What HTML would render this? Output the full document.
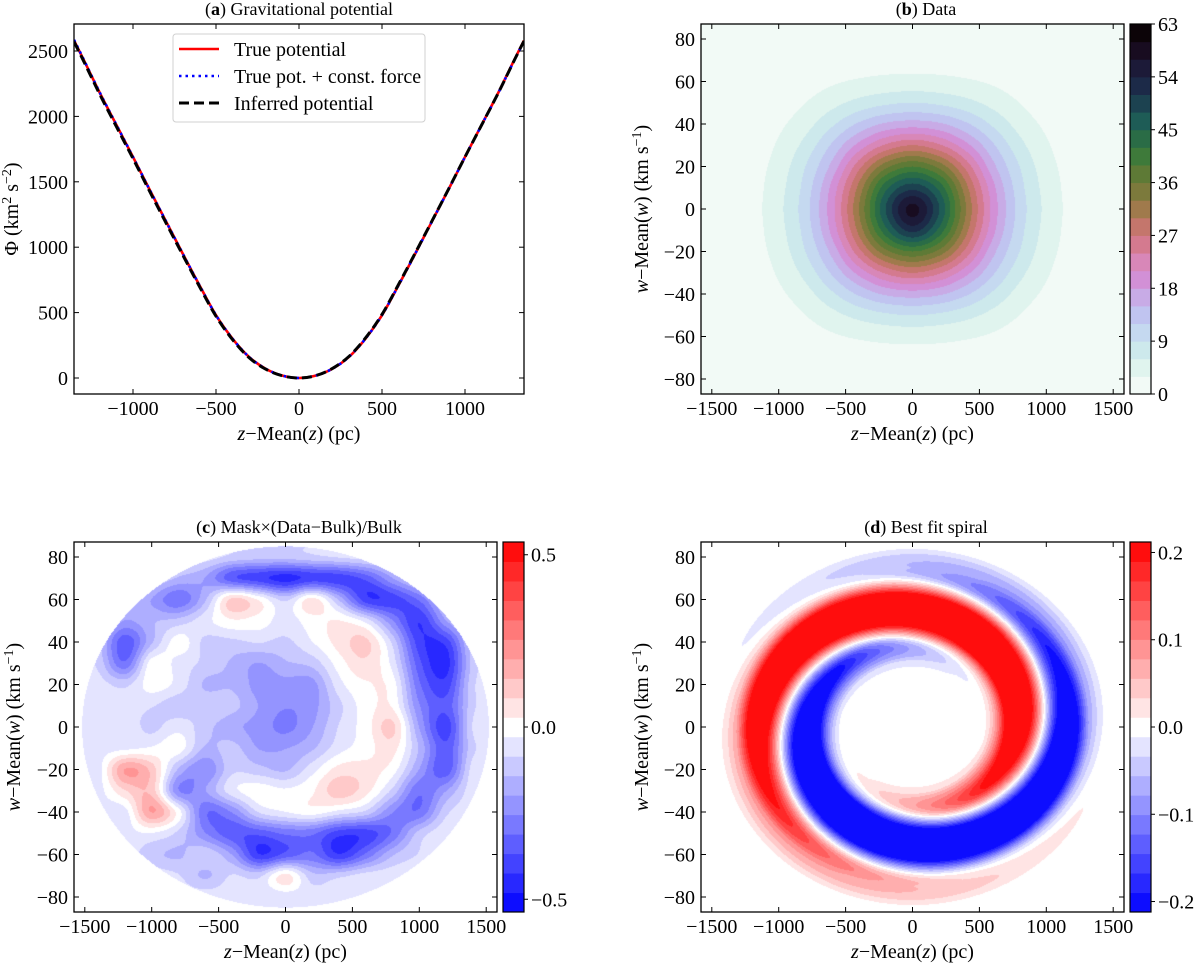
<!DOCTYPE html>
<html><head><meta charset="utf-8">
<style>
html,body{margin:0;padding:0;background:#fff;}
#wrap{position:relative;width:1200px;height:963px;overflow:hidden;font-family:"Liberation Serif","Times New Roman",Times,"DejaVu Serif",serif;}
canvas,svg{position:absolute;left:0;top:0;}
svg text{font-family:"Liberation Serif","Times New Roman",Times,"DejaVu Serif",serif;fill:#000;}
</style></head>
<body>
<div id="wrap">
<canvas id="cv" width="1200" height="963"></canvas>
<svg id="sv" width="1200" height="963" xmlns="http://www.w3.org/2000/svg"></svg>
</div>
<script>
// ---------- Panel (a) data ----------
const potZ=[-1355,-1300,-1200,-1100,-1000,-900,-800,-700,-600,-500,-400,-300,-200,-100,0,100,200,300,400,500,600,700,800,900,1000,1100,1200,1300,1355];
const potTrue=[2580,2440,2180,1935,1690,1440,1195,950,710,480,300,160,70,18,0,18,70,160,300,480,710,950,1195,1440,1690,1935,2180,2440,2580];
const potConst=[2585,2443,2182,1936,1690,1440,1195,950,710,480,300,160,70,18,0,18,70,160,300,480,710,950,1195,1440,1690,1934,2178,2437,2575];
const potInferred=[2570,2430,2168,1922,1678,1428,1183,940,700,472,293,155,67,17,0,18,72,164,305,486,716,955,1198,1442,1690,1934,2178,2437,2575];
const aXTicks=[-1000,-500,0,500,1000];
const aYTicks=[0,500,1000,1500,2000,2500];
// ---------- Panel (b) data ----------
const gridZ=[-1600,-1400,-1200,-1000,-800,-600,-400,-200,0,200,400,600,800,1000,1200,1400,1600];
const gridW=[80,70,60,50,40,30,20,10,0,-10,-20,-30,-40,-50,-60,-70,-80];
const densGrid=[
[0,0,0.01,0.05,0.12,0.25,0.4,0.5,0.55,0.5,0.4,0.25,0.12,0.05,0.01,0,0],
[0,0.02,0.1,0.3,0.6,1.0,1.4,1.7,1.8,1.7,1.4,1.0,0.6,0.3,0.1,0.02,0],
[0,0.05,0.3,0.8,1.6,2.6,3.4,3.9,4.1,3.9,3.4,2.6,1.6,0.8,0.3,0.05,0],
[0.02,0.1,0.5,1.4,3.0,5.0,7,8.4,9,8.4,7,5.0,3.0,1.4,0.5,0.1,0.02],
[0.03,0.2,0.9,2.4,4.8,8.5,12.5,15.5,16.5,15.5,12.5,8.5,4.8,2.4,0.9,0.2,0.03],
[0.05,0.3,1.3,3.4,7,12.5,19,24.5,27,24.5,19,12.5,7,3.4,1.3,0.3,0.05],
[0.06,0.4,1.7,4.3,9,16,26,35,39,35,26,16,9,4.3,1.7,0.4,0.06],
[0.07,0.45,1.9,4.9,10.2,19,31,44,50,44,31,19,10.2,4.9,1.9,0.45,0.07],
[0.07,0.5,2,5.2,10.8,20,33,48,58,48,33,20,10.8,5.2,2,0.5,0.07],
[0.07,0.45,1.9,4.9,10.2,19,31,44,52,44,31,19,10.2,4.9,1.9,0.45,0.07],
[0.06,0.4,1.7,4.3,9,16,26,35,39,35,26,16,9,4.3,1.7,0.4,0.06],
[0.05,0.3,1.3,3.4,7,12.5,19,24.5,27,24.5,19,12.5,7,3.4,1.3,0.3,0.05],
[0.03,0.2,0.9,2.4,4.8,8.5,12.5,15.5,16.5,15.5,12.5,8.5,4.8,2.4,0.9,0.2,0.03],
[0.02,0.1,0.5,1.4,3.0,5.0,7,8.4,9,8.4,7,5.0,3.0,1.4,0.5,0.1,0.02],
[0,0.05,0.3,0.8,1.6,2.6,3.4,3.9,4.1,3.9,3.4,2.6,1.6,0.8,0.3,0.05,0],
[0,0.02,0.1,0.3,0.6,1.0,1.4,1.7,1.8,1.7,1.4,1.0,0.6,0.3,0.1,0.02,0],
[0,0,0.01,0.05,0.12,0.25,0.4,0.5,0.55,0.5,0.4,0.25,0.12,0.05,0.01,0,0]];
const densColors=['#f2faf6','#e0f4ee','#cde9ec','#c5d9f0','#c0c4f0','#c8abe6','#d290d6','#d887b8','#d47a8f','#c4766c','#a07a4c','#7c7a3c','#5e7a36','#3e7a3a','#2a6c46','#1e5c56','#1c4250','#1c2a48','#1c1a38','#180c20','#0c0408'];
const densTicks=[0,9,18,27,36,45,54,63];
// ---------- Panel (c) data ----------
const residGrid=[
[-.05,-.05,-.05,-.05,-.05,-.06,-.1,-.12,-.12,-.1,-.08,-.06,-.05,-.05,-.05,-.05,-.05],
[-.05,-.05,-.05,-.08,-.15,-.2,-.35,-.4,-.45,-.4,-.4,-.35,-.2,-.08,-.05,-.05,-.05],
[-.05,-.05,-.12,-.2,-.3,-.15,.1,.02,-.1,.05,-.15,-.4,-.4,-.3,-.1,-.05,-.05],
[-.05,-.08,-.2,-.15,-.12,-.05,.02,0,-.05,0,.03,-.05,-.25,-.42,-.2,-.06,-.05],
[-.05,-.12,-.35,-.15,0,-.1,-.1,-.08,-.1,-.03,.05,.1,-.1,-.4,-.4,-.1,-.05],
[-.05,-.1,-.3,0,-.05,-.1,-.15,-.2,-.15,-.12,0,.07,-.05,-.35,-.45,-.12,-.05],
[-.05,-.06,-.1,0,-.05,-.15,-.15,-.22,-.22,-.22,-.05,.02,0,-.3,-.4,-.1,-.05],
[-.05,-.05,-.06,-.08,-.12,-.1,-.12,-.2,-.25,-.22,-.1,0,.02,-.25,-.35,-.1,-.05],
[-.05,-.05,-.05,-.1,-.05,-.12,-.18,-.22,-.27,-.2,-.08,0,.1,-.2,-.4,-.08,-.05],
[-.05,-.05,-.04,-.02,0,-.15,-.12,-.2,-.2,-.15,-.05,0,.05,-.15,-.35,-.1,-.05],
[-.05,-.05,.2,.12,-.15,-.25,-.1,-.12,-.15,-.05,.05,.05,0,-.2,-.35,-.06,-.05],
[-.05,-.05,.08,.12,-.25,-.2,-.05,0,-.02,.02,.12,.05,-.1,-.3,-.2,-.05,-.05],
[-.05,-.05,-.05,.2,0,-.3,-.25,-.08,-.03,0,-.05,-.1,-.25,-.3,-.1,-.05,-.05],
[-.05,-.05,-.05,-.03,-.1,-.25,-.35,-.35,-.3,-.3,-.4,-.4,-.3,-.12,-.05,-.05,-.05],
[-.05,-.05,-.05,-.12,-.15,-.1,-.2,-.42,-.35,-.3,-.42,-.3,-.15,-.08,-.05,-.05,-.05],
[-.05,-.05,-.05,-.05,-.08,-.15,-.08,-.1,.05,-.12,-.1,-.06,-.05,-.05,-.05,-.05,-.05],
[-.05,-.05,-.05,-.05,-.05,-.05,-.06,-.08,-.06,-.06,-.05,-.05,-.05,-.05,-.05,-.05,-.05]];
const residTicks=[-0.5,0,0.5];
const residTickLabels=['−0.5','0.0','0.5'];
// ---------- Panel (d) data ----------
const spiralR=[0,0.3,0.36,0.42,0.5,0.6,0.7,0.8,0.88,0.95,1.0,1.1];
const spiralAmp=[0,0,0.02,0.12,0.3,0.35,0.35,0.25,0.09,0.04,0,0];
const spiralPhaseR=[0.3,0.45,0.6,0.75,0.9,1.05];
const spiralPhase=[-1.8,-0.35,1.1,2.55,4.0,5.45];
const spiralTicks=[-0.2,-0.1,0,0.1,0.2];
const spiralTickLabels=['−0.2','−0.1','0.0','0.1','0.2'];
const zzTicks=[-1500,-1000,-500,0,500,1000,1500];
const wwTicks=[-80,-60,-40,-20,0,20,40,60,80];

// ---------- geometry ----------
const P={
 a:{x0:74,x1:524,y0:24,y1:394},
 b:{x0:701,x1:1124,y0:24,y1:394,cx:912.5,cy:209,cb:[1130,1151]},
 c:{x0:74,x1:497,y0:542,y1:912,cx:285.5,cy:727,cb:[503,524]},
 d:{x0:701,x1:1124,y0:542,y1:912,cx:912.5,cy:727,cb:[1130,1151]}
};
const KX=0.1338, KW=2.125;
const aX=z=>299+z*0.166, aY=v=>378-v*0.1308;
function mkX(p){return z=>p.cx+z*KX;}
function mkY(p){return w=>p.cy-w*KW;}
function fmt(v){return v<0?'−'+Math.abs(v):String(v);}
const FF="'Liberation Serif','Times New Roman',Times,'DejaVu Serif',serif";

const NS='http://www.w3.org/2000/svg';
const sv=document.getElementById('sv');
function el(tag,attrs,parent){const e=document.createElementNS(NS,tag);for(const k in attrs)e.setAttribute(k,attrs[k]);if(tag==='text')e.style.fontFamily=FF;(parent||sv).appendChild(e);return e;}

// ---------- heatmap helpers ----------
function cr(p0,p1,p2,p3,t){return 0.5*((2*p1)+(-p0+p2)*t+(2*p0-5*p1+4*p2-p3)*t*t+(-p0+3*p1-3*p2+p3)*t*t*t);}
function sampleGrid(g,z,w){
 const fx=(z-gridZ[0])/(gridZ[1]-gridZ[0]);const fy=(gridW[0]-w)/(gridW[0]-gridW[1]);
 const nx=gridZ.length,ny=gridW.length;
 const ix=Math.floor(fx),iy=Math.floor(fy),tx=fx-ix,ty=fy-iy;
 const cl=(v,n)=>Math.max(0,Math.min(n-1,v));
 const rows=[];
 for(let j=-1;j<3;j++){const r=g[cl(iy+j,ny)];rows.push(cr(r[cl(ix-1,nx)],r[cl(ix,nx)],r[cl(ix+1,nx)],r[cl(ix+2,nx)],tx));}
 return cr(rows[0],rows[1],rows[2],rows[3],ty);
}
function hex(h){return [parseInt(h.substr(1,2),16),parseInt(h.substr(3,2),16),parseInt(h.substr(5,2),16)];}
function bwr(i,n){const t=(i+0.5)/n;return t<0.5?[Math.round(510*t),Math.round(510*t),255]:[255,Math.round(510*(1-t)),Math.round(510*(1-t))];}
function interp(xs,ys,x){if(x<=xs[0])return ys[0];for(let i=1;i<xs.length;i++){if(x<=xs[i]){const t=(x-xs[i-1])/(xs[i]-xs[i-1]);return ys[i-1]+t*(ys[i]-ys[i-1]);}}return ys[ys.length-1];}

const cv=document.getElementById('cv');const ctx=cv.getContext('2d');
const img=ctx.createImageData(1200,963);const D=img.data;
for(let i=0;i<D.length;i+=4){D[i]=255;D[i+1]=255;D[i+2]=255;D[i+3]=255;}
function fill(p,fn){
 for(let py=p.y0;py<p.y1;py++)for(let px=p.x0;px<p.x1;px++){
  const z=(px+0.5-p.cx)/KX,w=(p.cy-py-0.5)/KW;const c=fn(z,w);const k=(py*1200+px)*4;D[k]=c[0];D[k+1]=c[1];D[k+2]=c[2];}
}
const dens=densColors.map(hex);
fill(P.b,(z,w)=>{const v=sampleGrid(densGrid,z,w);let i=Math.floor(v/3);i=Math.max(0,Math.min(20,i));return dens[i];});
const LC=0.537,LD=0.212,NB=19;
function band(v,L){let i=Math.floor((v+L)/(2*L)*NB);return Math.max(0,Math.min(NB-1,i));}
fill(P.c,(z,w)=>{const r=(z/1520)**2+(w/85)**2;const v=r>1?0:sampleGrid(residGrid,z,w);return bwr(band(v,LC),NB);});
fill(P.d,(z,w)=>{const u=z/1500,q=w/85;const r=Math.hypot(u,q);const th=Math.atan2(q,u);
 const v=interp(spiralR,spiralAmp,r)*Math.cos(th-interp(spiralPhaseR,spiralPhase,r));return bwr(band(v,LD),NB);});
ctx.putImageData(img,0,0);

// ---------- axes drawing ----------
function frame(p,name){el('rect',{x:p.x0,y:p.y0,width:p.x1-p.x0,height:p.y1-p.y0,fill:'none',stroke:'#000','stroke-width':1.3,});}
function xticks(p,ticks,xf,name){
 const g=el('g',{});
 
 
 ticks.forEach(t=>{const x=xf(t);
  el('line',{x1:x,x2:x,y1:p.y1,y2:p.y1-5,stroke:'#000','stroke-width':1},g);
  el('line',{x1:x,x2:x,y1:p.y0,y2:p.y0+5,stroke:'#000','stroke-width':1},g);
  const tx=el('text',{x:x,y:p.y1+21,'text-anchor':'middle','font-size':20},g);tx.textContent=fmt(t);
  
  
 });
}
function yticks(p,ticks,yf,name){
 const g=el('g',{});
 
 
 ticks.forEach(t=>{const y=yf(t);
  el('line',{x1:p.x0,x2:p.x0+5,y1:y,y2:y,stroke:'#000','stroke-width':1},g);
  el('line',{x1:p.x1,x2:p.x1-5,y1:y,y2:y,stroke:'#000','stroke-width':1},g);
  const tx=el('text',{x:p.x0-6,y:y+7,'text-anchor':'end','font-size':20},g);tx.textContent=fmt(t);
  
  
 });
}
function title(p,letter,rest,name){
 const t=el('text',{x:(p.x0+p.x1)/2+(p.cb?(p.cb[1]-p.x1)/2:0),y:p.y0-9,'text-anchor':'middle','font-size':18});
 
 
 t.innerHTML='(<tspan font-weight="bold">'+letter+'</tspan>) '+rest;
}
function xlabel(p,name){
 const t=el('text',{x:(p.x0+p.x1)/2,y:p.y1+46,'text-anchor':'middle','font-size':20});
 
 
 t.innerHTML='<tspan font-style="italic">z</tspan>−Mean(<tspan font-style="italic">z</tspan>) (pc)';
}
function wlabel(p,x,name){
 const cy=(p.y0+p.y1)/2;
 const t=el('text',{x:x,y:cy,'text-anchor':'middle','font-size':20,transform:'rotate(-90 '+x+' '+cy+')'});
 
 
 t.innerHTML='<tspan font-style="italic">w</tspan>−Mean(<tspan font-style="italic">w</tspan>) (km s<tspan baseline-shift="super" font-size="14">−1</tspan>)';
}
function colorbar(p,colors,ticks,labels,vmin,vmax,name){
 const [x0,x1]=p.cb;const n=colors.length;const h=(p.y1-p.y0)/n;
 const g=el('g',{});
 
 
 colors.forEach((c,i)=>{el('rect',{x:x0,y:p.y1-(i+1)*h,width:x1-x0,height:h+0.5,fill:'rgb('+c.join(',')+')'},g);});
 el('rect',{x:x0,y:p.y0,width:x1-x0,height:p.y1-p.y0,fill:'none',stroke:'#000','stroke-width':1.2},g);
 ticks.forEach((t,i)=>{const y=p.y1-(t-vmin)/(vmax-vmin)*(p.y1-p.y0);
  el('line',{x1:x1,x2:x1+4,y1:y,y2:y,stroke:'#000','stroke-width':1},g);
  const tx=el('text',{x:x1+7,y:y+7,'font-size':20},g);tx.textContent=labels[i];
  
  
 });
}

// Panel a
(function(){
 const p=P.a;
 const cp=el('clipPath',{id:'clipA'});el('rect',{x:p.x0,y:p.y0,width:p.x1-p.x0,height:p.y1-p.y0},cp);
 function path(zs,vs){const pts=zs.map((z,i)=>[aX(z),aY(vs[i])]);let d='M'+pts[0][0]+','+pts[0][1];
  for(let i=0;i<pts.length-1;i++){const p0=pts[Math.max(0,i-1)],p1=pts[i],p2=pts[i+1],p3=pts[Math.min(pts.length-1,i+2)];
   d+=' C'+(p1[0]+(p2[0]-p0[0])/6)+','+(p1[1]+(p2[1]-p0[1])/6)+' '+(p2[0]-(p3[0]-p1[0])/6)+','+(p2[1]-(p3[1]-p1[1])/6)+' '+p2[0]+','+p2[1];}
  return d;}
 const l1=el('path',{d:path(potZ,potTrue),fill:'none',stroke:'#ff0000','stroke-width':2.6,'clip-path':'url(#clipA)'});
 
 
 const l2=el('path',{d:path(potZ,potConst),fill:'none',stroke:'#0000ff','stroke-width':2.6,'stroke-dasharray':'2.5,4','clip-path':'url(#clipA)'});
 
 
 const l3=el('path',{d:path(potZ,potInferred),fill:'none',stroke:'#000','stroke-width':3,'stroke-dasharray':'10,5','clip-path':'url(#clipA)'});
 
 
 frame(p,'panel-a');
 xticks(p,aXTicks,aX,'panel-a');yticks(p,aYTicks,aY,'panel-a');
 title(p,'a','Gravitational potential','panel-a-title');
 xlabel(p,'panel-a-x-label');
 const cy=(p.y0+p.y1)/2;
 const yl=el('text',{x:18,y:cy,'text-anchor':'middle','font-size':20,transform:'rotate(-90 18 '+cy+')'});
 
 
 yl.innerHTML='Φ (km<tspan baseline-shift="super" font-size="14">2</tspan> s<tspan baseline-shift="super" font-size="14">−2</tspan>)';
 const lg=el('g',{});
 
 
 el('rect',{x:173,y:34,width:252,height:88,rx:3,fill:'#fff','fill-opacity':0.85,stroke:'#d0d0d0','stroke-width':1},lg);
 const ents=[['True potential','#ff0000','none',2.6,49],['True pot. + const. force','#0000ff','2.5,4',2.6,76],['Inferred potential','#000','10,5',3,103]];
 ents.forEach(e=>{const g=el('g',{},lg);
  
  
  el('line',{x1:179,x2:219,y1:e[4],y2:e[4],stroke:e[1],'stroke-width':e[3],'stroke-dasharray':e[2]},g);
  const t=el('text',{x:234,y:e[4]+7,'font-size':20},g);t.textContent=e[0];});
})();

// Panel b
(function(){const p=P.b;const X=mkX(p),Y=mkY(p);frame(p,'panel-b');xticks(p,zzTicks,X,'panel-b');yticks(p,wwTicks,Y,'panel-b');
 title(p,'b','Data','panel-b-title');xlabel(p,'panel-b-x-label');wlabel(p,648,'panel-b-y-label');
 colorbar(p,dens,densTicks,densTicks.map(String),0,63,'panel-b-colorbar');})();
// Panel c
(function(){const p=P.c;const X=mkX(p),Y=mkY(p);frame(p,'panel-c');xticks(p,zzTicks,X,'panel-c');yticks(p,wwTicks,Y,'panel-c');
 title(p,'c','Mask×(Data−Bulk)/Bulk','panel-c-title');xlabel(p,'panel-c-x-label');wlabel(p,20,'panel-c-y-label');
 const cols=[];for(let i=0;i<NB;i++)cols.push(bwr(i,NB));
 colorbar(p,cols,residTicks,residTickLabels,-LC,LC,'panel-c-colorbar');})();
// Panel d
(function(){const p=P.d;const X=mkX(p),Y=mkY(p);frame(p,'panel-d');xticks(p,zzTicks,X,'panel-d');yticks(p,wwTicks,Y,'panel-d');
 title(p,'d','Best fit spiral','panel-d-title');xlabel(p,'panel-d-x-label');wlabel(p,648,'panel-d-y-label');
 const cols=[];for(let i=0;i<NB;i++)cols.push(bwr(i,NB));
 colorbar(p,cols,spiralTicks,spiralTickLabels,-LD,LD,'panel-d-colorbar');})();
</script>
</body></html>
